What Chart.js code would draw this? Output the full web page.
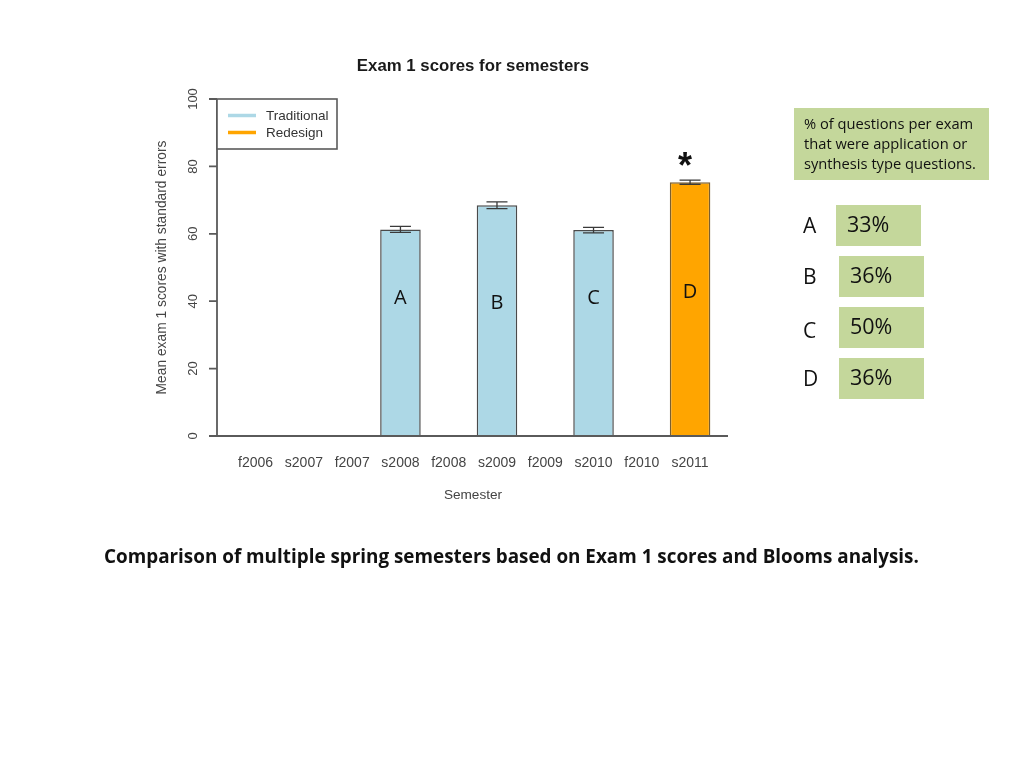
<!DOCTYPE html>
<html>
<head>
<meta charset="utf-8">
<script src="https://cdn.jsdelivr.net/npm/chart.js@4.4.1/dist/chart.umd.min.js"></script>
<style>
  html, body { margin: 0; padding: 0; background: #ffffff; }
  #wrap { position: relative; width: 1024px; height: 768px; }
  canvas { display: block; }
</style>
</head>
<body>
<div id="wrap"><canvas id="c" width="1024" height="768"></canvas></div>
<script>
// ---- data ----
const semesters = ['f2006','s2007','f2007','s2008','f2008','s2009','f2009','s2010','f2010','s2011'];
const traditional = [null, null, null, 61.3, null, 68.5, null, 61.1, null, null];
const redesign    = [null, null, null, null, null, null, null, null, null, 75.3];
const stdErrors   = [null, null, null, 0.9, null, 1.0, null, 0.8, null, 0.6];
const yTicks = [0, 20, 40, 60, 80, 100];
const barLetters = ['', '', '', 'A', '', 'B', '', 'C', '', 'D'];
const letterValues = [null, null, null, 41, null, 39.5, null, 41, null, 42.5];
const bloomLabels = ['A', 'B', 'C', 'D'];
const bloomPercents = ['33%', '36%', '50%', '36%'];

const AXIS = '#5a5a5a';
const TXT = '#444444';

const decor = {
  id: 'decor',
  afterDatasetsDraw(chart) {
    const ctx = chart.ctx;
    const xs = chart.scales.x, ys = chart.scales.y;
    const y0 = ys.getPixelForValue(0), y100 = ys.getPixelForValue(100);
    const axisX = 217;
    ctx.save();
    // error bars
    ctx.strokeStyle = '#3a3a3a';
    ctx.lineWidth = 1.3;
    stdErrors.forEach((e, i) => {
      if (e == null) return;
      const v = traditional[i] != null ? traditional[i] : redesign[i];
      const cx = xs.getPixelForValue(i);
      const yt = ys.getPixelForValue(v + e), yb = ys.getPixelForValue(v - e);
      ctx.beginPath();
      ctx.moveTo(cx, yt); ctx.lineTo(cx, yb);
      ctx.moveTo(cx - 10.5, yt); ctx.lineTo(cx + 10.5, yt);
      ctx.moveTo(cx - 10.5, yb); ctx.lineTo(cx + 10.5, yb);
      ctx.stroke();
    });
    // axes
    ctx.strokeStyle = AXIS;
    ctx.lineWidth = 1.8;
    ctx.beginPath();
    ctx.moveTo(axisX, y0); ctx.lineTo(axisX, y100);
    ctx.moveTo(209, y0); ctx.lineTo(728, y0);
    yTicks.forEach(t => {
      const ty = ys.getPixelForValue(t);
      ctx.moveTo(209, ty); ctx.lineTo(axisX, ty);
    });
    ctx.stroke();
    // y tick labels (rotated)
    ctx.fillStyle = TXT;
    ctx.font = '13px "Liberation Sans", Arial, sans-serif';
    ctx.textAlign = 'center';
    ctx.textBaseline = 'middle';
    yTicks.forEach(t => {
      const ty = ys.getPixelForValue(t);
      ctx.save();
      ctx.translate(193, ty);
      ctx.rotate(-Math.PI / 2);
      ctx.fillText(String(t), 0, 0);
      ctx.restore();
    });
    // y title
    ctx.save();
    ctx.font = '13.8px "Liberation Sans", Arial, sans-serif';
    ctx.translate(162, (y0 + y100) / 2);
    ctx.rotate(-Math.PI / 2);
    ctx.fillText('Mean exam 1 scores with standard errors', 0, 0);
    ctx.restore();
    // x tick labels
    ctx.font = '14px "Liberation Sans", Arial, sans-serif';
    semesters.forEach((s, i) => {
      ctx.fillText(s, xs.getPixelForValue(i), 463);
    });
    ctx.font = '13.6px "Liberation Sans", Arial, sans-serif';
    ctx.fillText('Semester', 473, 495);
    // title
    ctx.fillStyle = '#1a1a1a';
    ctx.font = 'bold 16.8px "Liberation Sans", Arial, sans-serif';
    ctx.fillText('Exam 1 scores for semesters', 473, 66);
    // legend
    ctx.strokeStyle = AXIS;
    ctx.lineWidth = 1.6;
    ctx.fillStyle = '#ffffff';
    ctx.fillRect(217, 99, 120, 50);
    ctx.strokeRect(217, 99, 120, 50);
    ctx.lineWidth = 3.5;
    ctx.strokeStyle = '#ADD8E6';
    ctx.beginPath(); ctx.moveTo(228, 115.5); ctx.lineTo(256, 115.5); ctx.stroke();
    ctx.strokeStyle = '#FFA500';
    ctx.beginPath(); ctx.moveTo(228, 132.5); ctx.lineTo(256, 132.5); ctx.stroke();
    ctx.fillStyle = '#333333';
    ctx.font = '13.5px "Liberation Sans", Arial, sans-serif';
    ctx.textAlign = 'left';
    ctx.fillText('Traditional', 266, 116);
    ctx.fillText('Redesign', 266, 133);
    // letters inside bars
    ctx.fillStyle = '#111111';
    ctx.textAlign = 'center';
    ctx.font = '20px "Open Sans", "Noto Sans", sans-serif';
    barLetters.forEach((L, i) => {
      if (!L) return;
      ctx.fillText(L, xs.getPixelForValue(i), ys.getPixelForValue(letterValues[i]));
    });
    // asterisk, centred at (685,159)
    ctx.font = 'bold 36px "Liberation Sans", Arial, sans-serif';
    ctx.textBaseline = 'alphabetic';
    ctx.textAlign = 'left';
    const m = ctx.measureText('*');
    const aw = m.actualBoundingBoxLeft + m.actualBoundingBoxRight;
    const ah = m.actualBoundingBoxAscent + m.actualBoundingBoxDescent;
    const ax = 685 - aw / 2 + m.actualBoundingBoxLeft;
    const ay = 159 + m.actualBoundingBoxAscent - ah / 2;
    ctx.fillText('*', ax, ay);
    // right panel
    const GREEN = '#C4D79B';
    ctx.fillStyle = GREEN;
    ctx.fillRect(794, 108, 195, 72);
    ctx.fillStyle = '#111111';
    ctx.textAlign = 'left';
    ctx.textBaseline = 'middle';
    ctx.font = '14.7px "Open Sans", "Noto Sans", sans-serif';
    ctx.fillText('% of questions per exam', 804, 125);
    ctx.fillText('that were application or', 804, 145);
    ctx.fillText('synthesis type questions.', 804, 165);
    const boxes = [[836, 205], [839, 256], [839, 307], [839, 358]];
    const letterY = [227, 278, 332, 380];
    boxes.forEach((b, k) => {
      ctx.fillStyle = GREEN;
      ctx.fillRect(b[0], b[1], 85, 41);
      ctx.fillStyle = '#111111';
      ctx.font = '21.5px "Open Sans", "Noto Sans", sans-serif';
      ctx.fillText(bloomPercents[k], b[0] + 11, b[1] + 21);
      ctx.font = '21px "Open Sans", "Noto Sans", sans-serif';
      ctx.fillText(bloomLabels[k], 803, letterY[k]);
    });
    // caption
    const cap = 'Comparison of multiple spring semesters based on Exam 1 scores and Blooms analysis.';
    let fs = 18;
    ctx.font = 'bold ' + fs + 'px "Open Sans", "Noto Sans", sans-serif';
    const w = ctx.measureText(cap).width;
    fs = fs * 815 / w;
    ctx.font = 'bold ' + fs.toFixed(2) + 'px "Open Sans", "Noto Sans", sans-serif';
    ctx.fillText(cap, 104, 558);
    ctx.restore();
  }
};

new Chart(document.getElementById('c'), {
  type: 'bar',
  data: {
    labels: semesters,
    datasets: [
      { label: 'Traditional', data: traditional, backgroundColor: '#ADD8E6', borderColor: '#4a4a4a', borderWidth: 1.5, grouped: false, barPercentage: 0.84, categoryPercentage: 1.0 },
      { label: 'Redesign', data: redesign, backgroundColor: '#FFA500', borderColor: '#7a5f30', borderWidth: 1.5, grouped: false, barPercentage: 0.84, categoryPercentage: 1.0 }
    ]
  },
  options: {
    responsive: false,
    animation: false,
    devicePixelRatio: 1,
    layout: { padding: { left: 231.5, right: 309.8, top: 99, bottom: 332 } },
    plugins: { legend: { display: false }, tooltip: { enabled: false }, title: { display: false } },
    scales: {
      x: { display: false, offset: true },
      y: { display: false, min: 0, max: 100 }
    }
  },
  plugins: [decor]
});
</script>
</body>
</html>
